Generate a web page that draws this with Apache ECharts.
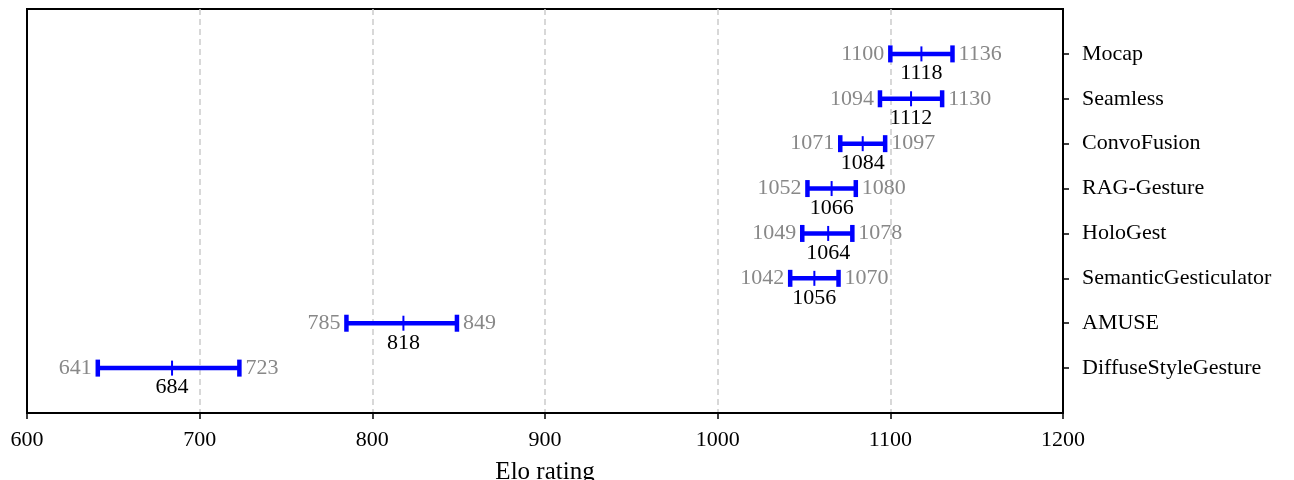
<!DOCTYPE html>
<html>
<head>
<meta charset="utf-8">
<script src="https://cdn.jsdelivr.net/npm/echarts@6/dist/echarts.min.js"></script>
<style>
html,body{margin:0;padding:0;background:#fff;}
#chart{width:1294px;height:480px;}
</style>
</head>
<body>
<div id="chart"></div>
<script>
const models = ['Mocap','Seamless','ConvoFusion','RAG-Gesture','HoloGest','SemanticGesticulator','AMUSE','DiffuseStyleGesture'];
const lower = [1100,1094,1071,1052,1049,1042,785,641];
const mean  = [1118,1112,1084,1066,1064,1056,818,684];
const upper = [1136,1130,1097,1080,1078,1070,849,723];
const xTicks = [600,700,800,900,1000,1100,1200];

const FONT = '"Liberation Serif", "Times New Roman", serif';
const data = models.map((m,i)=>[i, lower[i], mean[i], upper[i]]);

const chart = echarts.init(document.getElementById('chart'), null, {renderer:'canvas'});
chart.setOption({
  animation:false,
  backgroundColor:'#fff',
  grid:{left:27,right:231,top:9,bottom:67,show:true,borderColor:'#000',borderWidth:2,outerBoundsMode:'none',containLabel:false},
  xAxis:{
    type:'value',min:600,max:1200,interval:100,
    name:'Elo rating',nameLocation:'middle',nameGap:47,
    nameTextStyle:{fontFamily:FONT,fontSize:25,color:'#000'},
    axisLine:{show:true,onZero:false,lineStyle:{color:'#000',width:2}},
    axisTick:{show:true,length:6,inside:false,lineStyle:{color:'#000',width:1.5}},
    axisLabel:{fontFamily:FONT,fontSize:22,color:'#000',margin:16,formatter:v=>xTicks.includes(v)?String(v):''},
    splitLine:{show:true,showMinLine:false,showMaxLine:false,lineStyle:{color:'#cccccc',width:1.5,type:[6,4]}}
  },
  yAxis:{
    type:'value',min:-1,max:8,inverse:true,position:'right',
    axisLine:{show:true,onZero:false,lineStyle:{color:'#000',width:2}},
    axisTick:{show:true,length:6,lineStyle:{color:'#000',width:1.5},customValues:[0,1,2,3,4,5,6,7]},
    axisLabel:{fontFamily:FONT,fontSize:22,color:'#000',margin:19,align:'left',
      customValues:[0,1,2,3,4,5,6,7],formatter:v=>models[v]||''},
    splitLine:{show:false}
  },
  series:[{
    type:'custom',
    data:data,
    encode:{x:[1,2,3],y:0},
    renderItem:function(params, api){
      const idx=api.value(0), lo=api.value(1), mu=api.value(2), hi=api.value(3);
      const pL=api.coord([lo,idx]), pM=api.coord([mu,idx]), pH=api.coord([hi,idx]);
      const y=pL[1];
      const blue='#0000ff';
      return {type:'group',children:[
        {type:'line',shape:{x1:pL[0],y1:y,x2:pH[0],y2:y},style:{stroke:blue,lineWidth:4.5}},
        {type:'line',shape:{x1:pL[0],y1:y-8.5,x2:pL[0],y2:y+8.5},style:{stroke:blue,lineWidth:4.5}},
        {type:'line',shape:{x1:pH[0],y1:y-8.5,x2:pH[0],y2:y+8.5},style:{stroke:blue,lineWidth:4.5}},
        {type:'line',shape:{x1:pM[0],y1:y-7.5,x2:pM[0],y2:y+7.5},style:{stroke:blue,lineWidth:2}},
        {type:'text',style:{text:String(lo),x:pL[0]-6,y:y,align:'right',verticalAlign:'middle',fill:'#888888',fontFamily:FONT,fontSize:22}},
        {type:'text',style:{text:String(hi),x:pH[0]+6,y:y,align:'left',verticalAlign:'middle',fill:'#888888',fontFamily:FONT,fontSize:22}},
        {type:'text',style:{text:String(mu),x:pM[0],y:y+19.5,align:'center',verticalAlign:'middle',fill:'#000',fontFamily:FONT,fontSize:22}}
      ]};
    }
  }]
});
</script>
</body>
</html>
